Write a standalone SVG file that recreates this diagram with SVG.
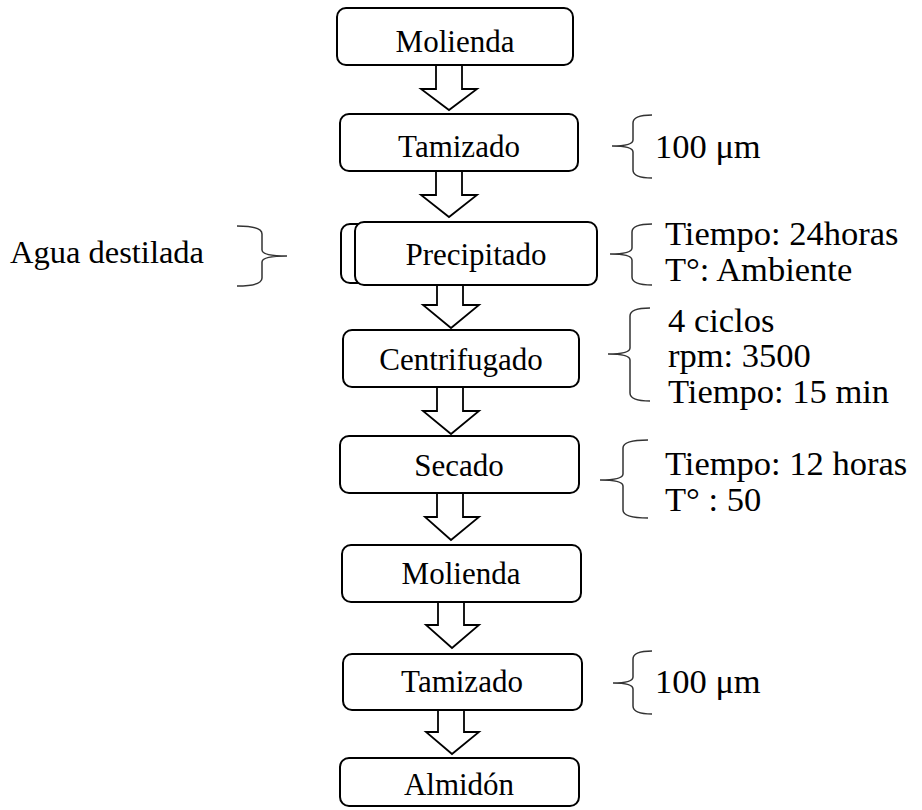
<svg xmlns="http://www.w3.org/2000/svg" width="922" height="810" viewBox="0 0 922 810">
<style>
.box{fill:#fff;stroke:#000;stroke-width:2}
.arr{fill:#fff;stroke:#000;stroke-width:1.8;stroke-linejoin:miter}
.br{fill:none;stroke:#333;stroke-width:1.5}
text{font-family:"Liberation Serif","Times New Roman",serif;font-size:31px;fill:#000}
.c{text-anchor:middle}
.n{font-size:34.5px}
</style>
<rect width="922" height="810" fill="#fff"/>
<g id="connectors">
<path class="arr" d="M436,65 L462,65 L462,89 L477,89 L449,110 L421,89 L436,89 Z"/>
<path class="arr" d="M436,171 L462,171 L462,195 L477,195 L449,217 L421,195 L436,195 Z"/>
<path class="arr" d="M437,285 L463,285 L463,305 L479,305 L451,328 L423,305 L437,305 Z"/>
<path class="arr" d="M437,387 L463,387 L463,411 L479,411 L451,434 L423,411 L437,411 Z"/>
<path class="arr" d="M437,493 L463,493 L463,517 L479,517 L451,540 L425,517 L437,517 Z"/>
<path class="arr" d="M438,602 L464,602 L464,625 L479,625 L452,648 L426,625 L438,625 Z"/>
<path class="arr" d="M438,710 L464,710 L464,732 L479,732 L452,754 L426,732 L438,732 Z"/>
</g>
<g id="n1"><rect class="box" x="337" y="8" width="236" height="57" rx="9"/><text class="c" x="455" y="52">Molienda</text></g>
<g id="n2"><rect class="box" x="340" y="114" width="238" height="57" rx="9"/><text class="c" x="459" y="157">Tamizado</text></g>
<g id="n3"><rect class="box" x="341" y="224" width="240" height="59" rx="9"/><rect class="box" x="355" y="222" width="242" height="63" rx="9"/><text class="c" x="476" y="265">Precipitado</text></g>
<g id="n4"><rect class="box" x="343" y="330" width="236" height="57" rx="9"/><text class="c" x="461" y="370">Centrifugado</text></g>
<g id="n5"><rect class="box" x="340" y="436" width="239" height="57" rx="9"/><text class="c" x="459" y="476">Secado</text></g>
<g id="n6"><rect class="box" x="342" y="545" width="239" height="57" rx="9"/><text class="c" x="461" y="584">Molienda</text></g>
<g id="n7"><rect class="box" x="343" y="654" width="239" height="56" rx="9"/><text class="c" x="462" y="692">Tamizado</text></g>
<g id="n8"><rect class="box" x="340" y="758" width="239" height="48" rx="9"/><text class="c" x="459" y="795">Almidón</text></g>
<g id="brackets">
<path class="br" d="M652,115 Q633,115 633,123 L633,140 Q633,146 612,146 Q633,146 633,152 L633,170 Q633,178 652,178"/>
<path class="br" d="M652,224 Q632,224 632,232 L632,248 Q632,254 610,254 Q632,254 632,260 L632,277 Q632,285 652,285"/>
<path class="br" d="M650,308 Q630,308 630,316 L630,348 Q630,354 608,354 Q630,354 630,360 L630,393 Q630,401 650,401"/>
<path class="br" d="M648,440 Q623,440 623,448 L623,474 Q623,480 600,480 Q623,480 623,486 L623,510 Q623,518 648,518"/>
<path class="br" d="M652,651 Q633,651 633,659 L633,677 Q633,683 613,683 Q633,683 633,689 L633,706 Q633,714 652,714"/>
<path class="br" d="M237,226 Q262,226 262,234 L262,250 Q262,256 287,256 Q262,256 262,262 L262,278 Q262,286 237,286"/>
</g>
<g id="notes">
<text x="10" y="263" style="font-size:32.5px">Agua destilada</text>
<text class="n" x="655" y="158">100 μm</text>
<text class="n" x="665" y="245">Tiempo: 24horas</text>
<text class="n" x="665" y="281">T°: Ambiente</text>
<text class="n" x="668" y="332">4 ciclos</text>
<text class="n" x="668" y="367">rpm: 3500</text>
<text class="n" x="668" y="403">Tiempo: 15 min</text>
<text class="n" x="665" y="475">Tiempo: 12 horas</text>
<text class="n" x="665" y="511">T° : 50</text>
<text class="n" x="655" y="693">100 μm</text>
</g>
</svg>
